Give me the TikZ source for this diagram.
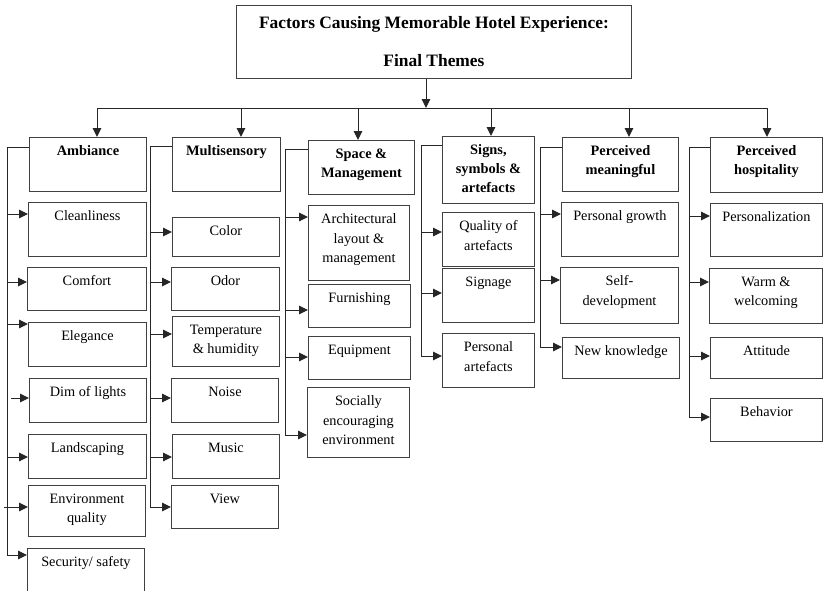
\documentclass[tikz,border=0pt]{standalone}
\usepackage{fontspec}
\setmainfont{Liberation Serif}
\usetikzlibrary{arrows.meta}

\tikzset{
  frame/.style={draw=black!75, line width=0.9pt, inner sep=0pt, anchor=north west},
  caption/.style={anchor=north, inner sep=0pt, align=center,
    font=\fontsize{14.3}{19.5}\selectfont},
  head/.style={caption, font=\fontsize{14.4}{19}\selectfont\bfseries},
  link/.style={draw=black!85, line width=1pt},
  feed/.style={link, -{Triangle[length=9pt,width=8.5pt]}},
}

% box: style, name, x1, y1, x2, y2, y of incoming arrow, text
\newcommand\bx[8]{%
  \node[frame, minimum width={#5-#3}, minimum height={#6-#4}] (#2) at (#3,#4) {};
  \node[#1] (#2-txt) at ([yshift=-8.5pt]#2.north) {#8};
  \coordinate (#2-in) at (#3,#7);
}

\begin{document}
\begin{tikzpicture}[x=1pt,y=-1pt]
\useasboundingbox (0,0) rectangle (823,590);

% title
\node[frame, minimum width=395, minimum height=73] (title) at (236,5) {};
\node[anchor=north, inner sep=0pt, align=center,
      font=\fontsize{17.4}{38}\selectfont\bfseries] (title-txt)
  at ([yshift=-11.5pt]title.north)
  {Factors Causing Memorable Hotel Experience:\\Final Themes};

% column 1
\bx{head}{amb}{29}{137}{146}{191}{147}{Ambiance}
\bx{caption}{c1a}{28}{202}{146}{256}{214}{Cleanliness}
\bx{caption}{c1b}{27}{267}{146}{310}{282}{Comfort}
\bx{caption}{c1c}{28}{322}{146}{366}{324}{Elegance}
\bx{caption}{c1d}{29}{378}{146}{422}{398}{Dim of lights}
\bx{caption}{c1e}{28}{434}{146}{478}{457}{Landscaping}
\bx{caption}{c1f}{28}{485}{145}{536}{507}{Environment\\quality}
\bx{caption}{c1g}{27}{548}{144}{600}{555}{Security/ safety}

% column 2
\bx{head}{mul}{172}{137}{280}{191}{146}{Multisensory}
\bx{caption}{c2a}{172}{217}{279}{256}{232}{Color}
\bx{caption}{c2b}{171}{267}{279}{310}{282}{Odor}
\bx{caption}{c2c}{172}{316}{279}{366}{334}{Temperature\\\& humidity}
\bx{caption}{c2d}{171}{378}{278}{422}{398}{Noise}
\bx{caption}{c2e}{172}{434}{279}{478}{457}{Music}
\bx{caption}{c2f}{171}{485}{278}{528}{507}{View}

% column 3
\bx{head}{spa}{308}{140}{414}{194}{149}{Space \&\\Management}
\bx{caption}{c3a}{308}{205}{409}{280}{217}{Architectural\\layout \&\\management}
\bx{caption}{c3b}{308}{284}{410}{327}{310}{Furnishing}
\bx{caption}{c3c}{308}{336}{410}{379}{357}{Equipment}
\bx{caption}{c3d}{307}{387}{409}{457}{435}{Socially\\encouraging\\environment}

% column 4
\bx{head}{sig}{442}{136}{534}{203}{145}{Signs,\\symbols \&\\artefacts}
\bx{caption}{c4a}{442}{212}{534}{266}{232}{Quality of\\artefacts}
\bx{caption}{c4b}{442}{268}{534}{322}{293}{Signage}
\bx{caption}{c4c}{442}{333}{534}{387}{356}{Personal\\artefacts}

% column 5
\bx{head}{mea}{562}{137}{678}{191}{147}{Perceived\\meaningful}
\bx{caption}{c5a}{561}{202}{678}{256}{214}{Personal growth}
\bx{caption}{c5b}{560}{267}{678}{323}{280}{Self-\\development}
\bx{caption}{c5c}{562}{337}{679}{378}{347}{New knowledge}

% column 6
\bx{head}{hos}{710}{137}{822}{192}{147}{Perceived\\hospitality}
\bx{caption}{c6a}{710}{203}{822}{256}{216}{Personalization}
\bx{caption}{c6b}{709}{268}{822}{323}{282}{Warm \&\\welcoming}
\bx{caption}{c6c}{710}{337}{822}{378}{356}{Attitude}
\bx{caption}{c6d}{710}{398}{822}{441}{417}{Behavior}

% distribution bus under the title
\coordinate (busL) at (97,108);
\coordinate (busR) at (767,108);
\coordinate (tdrop) at (426,108);
\draw[link] (busL) -- (busR);
\draw[feed] (tdrop |- title.south) -- (tdrop);
\foreach \x/\h in {97/amb, 241/mul, 358/spa, 491/sig, 629/mea, 767/hos}
  \draw[feed] (\x,108) -- (\x,108 |- \h.north);

% spines on the left of each column
\coordinate (s1) at (7,0);
\coordinate (s2) at (150,0);
\coordinate (s3) at (285,0);
\coordinate (s4) at (421,0);
\coordinate (s5) at (540,0);
\coordinate (s6) at (689,0);

\draw[link] (amb-in) -- (s1 |- amb-in) -- (s1 |- c1g-in);
\draw[link] (mul-in) -- (s2 |- mul-in) -- (s2 |- c2f-in);
\draw[link] (spa-in) -- (s3 |- spa-in) -- (s3 |- c3d-in);
\draw[link] (sig-in) -- (s4 |- sig-in) -- (s4 |- c4c-in);
\draw[link] (mea-in) -- (s5 |- mea-in) -- (s5 |- c5c-in);
\draw[link] (hos-in) -- (s6 |- hos-in) -- (s6 |- c6d-in);

\foreach \b in {c1a,c1b,c1c,c1e,c1g}
  \draw[feed] (s1 |- \b-in) -- (\b-in);
\draw[feed] ([xshift=4pt]s1 |- c1d-in) -- (c1d-in);
\draw[feed] ([xshift=-3pt]s1 |- c1f-in) -- (c1f-in);
\foreach \b in {c2a,c2b,c2c,c2d,c2e,c2f}
  \draw[feed] (s2 |- \b-in) -- (\b-in);
\foreach \b in {c3a,c3b,c3c,c3d}
  \draw[feed] (s3 |- \b-in) -- (\b-in);
\foreach \b in {c4a,c4b,c4c}
  \draw[feed] (s4 |- \b-in) -- (\b-in);
\foreach \b in {c5a,c5b,c5c}
  \draw[feed] (s5 |- \b-in) -- (\b-in);
\foreach \b in {c6a,c6b,c6c,c6d}
  \draw[feed] (s6 |- \b-in) -- (\b-in);
\end{tikzpicture}
\end{document}
